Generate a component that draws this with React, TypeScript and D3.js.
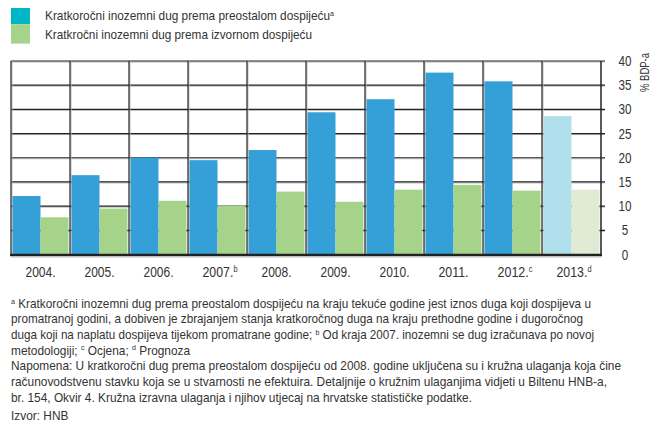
import React from 'react';
import * as d3 from 'd3';

const YEARS = ['2004.', '2005.', '2006.', '2007.', '2008.', '2009.', '2010.', '2011.', '2012.', '2013.'];
const YEAR_SUP = ['', '', '', 'b', '', '', '', '', 'c', 'd'];
const REMAINING = [12.1, 16.4, 20.0, 19.5, 21.6, 29.4, 32.1, 37.6, 35.8, 28.6];
const ORIGINAL = [7.7, 9.5, 11.1, 10.1, 13.0, 10.9, 13.4, 14.4, 13.2, 13.4];
const Y_TICKS = [0, 5, 10, 15, 20, 25, 30, 35, 40];
const LEGEND = [
  { label: 'Kratkoročni inozemni dug prema preostalom dospijeću', sup: 'a', color: '#00b5c6', len: 289 },
  { label: 'Kratkročni inozemni dug prema izvornom dospijeću', sup: '', color: '#a6d38a', len: 267 },
];
// ^x marks a superscript letter
const FOOTNOTES = [
  '^a Kratkoročni inozemni dug prema preostalom dospijeću na kraju tekuće godine jest iznos duga koji dospijeva u',
  'promatranoj godini, a dobiven je zbrajanjem stanja kratkoročnog duga na kraju prethodne godine i dugoročnog',
  'duga koji na naplatu dospijeva tijekom promatrane godine; ^b Od kraja 2007. inozemni se dug izračunava po novoj',
  'metodologiji; ^c Ocjena; ^d Prognoza',
  'Napomena: U kratkoročni dug prema preostalom dospijeću od 2008. godine uključena su i kružna ulaganja koja čine',
  'računovodstvenu stavku koja se u stvarnosti ne efektuira. Detaljnije o kružnim ulaganjima vidjeti u Biltenu HNB-a,',
  'br. 154, Okvir 4. Kružna izravna ulaganja i njihov utjecaj na hrvatske statističke podatke.',
  'Izvor: HNB',
];
// measured line widths; 0 = just condense like the rest
const FOOTNOTE_LEN = [580, 572, 583, 0, 610, 596, 461, 0];

const FONT = "'Liberation Sans', Arial, sans-serif";
const TEXT = '#333';
const SQUEEZE = 0.9;

function withSup(s: string) {
  const parts = s.split(/\^(\w)/);
  return parts.map((p, i) =>
    i % 2 === 1
      ? <tspan key={i} fontSize="0.6em" baselineShift="super">{p}</tspan>
      : <tspan key={i}>{p}</tspan>
  );
}

export default function App() {
  const W = 667;
  const H = 438;
  const left = 11, right = 601, top = 61, bottom = 254.5;

  const x = d3.scaleBand<string>().domain(YEARS).range([left, right]).paddingInner(0).paddingOuter(0);
  const y = d3.scaleLinear().domain([0, 40]).range([bottom, top]);
  const inner = d3.scaleBand<string>().domain(['r', 'o']).range([0, x.bandwidth()]).paddingOuter(0.055).paddingInner(0);

  const isForecast = (i: number) => i === YEARS.length - 1;

  return (
    <div style={{ margin: -8 }}>
      <svg width={W} height={H} style={{ display: 'block', fontFamily: FONT }}>
        <rect width={W} height={H} fill="#fff" />

        {LEGEND.map((l, i) => (
          <g key={l.label}>
            <rect x={11} y={5 + i * 19.3} width={19} height={19.3} fill={l.color} />
            <text x={45} y={20 + i * 18.5} fontSize={13.5} fill={TEXT} textLength={l.len} lengthAdjust="spacingAndGlyphs">
              {withSup(l.sup ? `${l.label}^${l.sup}` : l.label)}
            </text>
          </g>
        ))}

        {/* grid */}
        {Y_TICKS.filter(t => t > 0).map(t => (
          <g key={t}>
            <line x1={left} x2={right + 4} y1={y(t) + 1} y2={y(t) + 1} stroke="#bbb" strokeWidth={1} />
            <line x1={left} x2={right + 4} y1={y(t)} y2={y(t)} stroke="#222" strokeWidth={1.2} />
          </g>
        ))}
        {YEARS.map(yr => {
          const bx = x(yr) as number;
          return (
            <g key={yr}>
              <line x1={bx + 1} x2={bx + 1} y1={top} y2={bottom} stroke="#bbb" strokeWidth={1} />
              <line x1={bx} x2={bx} y1={top} y2={bottom} stroke="#222" strokeWidth={1.2} />
            </g>
          );
        })}
        <line x1={right} x2={right} y1={top} y2={bottom} stroke="#222" strokeWidth={1.5} />

        {/* bars */}
        {YEARS.map((yr, i) => {
          const bx = x(yr) as number;
          return (
            <g key={yr}>
              <rect x={bx + (inner('r') as number)} y={y(REMAINING[i])} width={inner.bandwidth()}
                height={bottom - y(REMAINING[i])} fill={isForecast(i) ? '#b0e0ec' : '#35a0d8'} />
              <rect x={bx + (inner('o') as number)} y={y(ORIGINAL[i])} width={inner.bandwidth()}
                height={bottom - y(ORIGINAL[i])} fill={isForecast(i) ? '#dfebd2' : '#a6d38a'} />
            </g>
          );
        })}

        <line x1={left - 1} x2={right + 1} y1={bottom + 0.5} y2={bottom + 0.5} stroke="#222" strokeWidth={2.5} />
        <line x1={left} x2={right + 1} y1={bottom + 2.5} y2={bottom + 2.5} stroke="#bbb" strokeWidth={1} />

        {/* right axis */}
        {Y_TICKS.map(t => (
          <text key={t} x={625} y={y(t) + 5} fontSize={14.5} fill={TEXT} textAnchor="middle"
            textLength={String(t).length * 6.5} lengthAdjust="spacingAndGlyphs">{t}</text>
        ))}
        <text transform="translate(649,72.5) rotate(-90)" fontSize={13} fill={TEXT} textAnchor="middle"
          textLength={39} lengthAdjust="spacingAndGlyphs">% BDP-a</text>

        {/* x labels */}
        {YEARS.map((yr, i) => (
          <text key={yr} x={(x(yr) as number) + x.bandwidth() / 2 + (YEAR_SUP[i] ? 2.5 : 0)} y={277.3} fontSize={15.5} fill={TEXT}
            textAnchor="middle" textLength={YEAR_SUP[i] ? 35 : 30} lengthAdjust="spacingAndGlyphs">
            {withSup(YEAR_SUP[i] ? `${yr}^${YEAR_SUP[i]}` : yr)}
          </text>
        ))}

        {/* footnotes */}
        {FOOTNOTES.map((f, i) => {
          const fy = 307.5 + i * 15.7 + (i === FOOTNOTES.length - 1 ? 3 : 0);
          return FOOTNOTE_LEN[i] ? (
            <text key={i} x={11} y={fy} fontSize={13.2} fill={TEXT}
              textLength={FOOTNOTE_LEN[i]} lengthAdjust="spacingAndGlyphs">
              {withSup(f)}
            </text>
          ) : (
            <text key={i} transform={`translate(11,${fy}) scale(${SQUEEZE},1)`} fontSize={13.2} fill={TEXT}>
              {withSup(f)}
            </text>
          );
        })}
      </svg>
    </div>
  );
}
